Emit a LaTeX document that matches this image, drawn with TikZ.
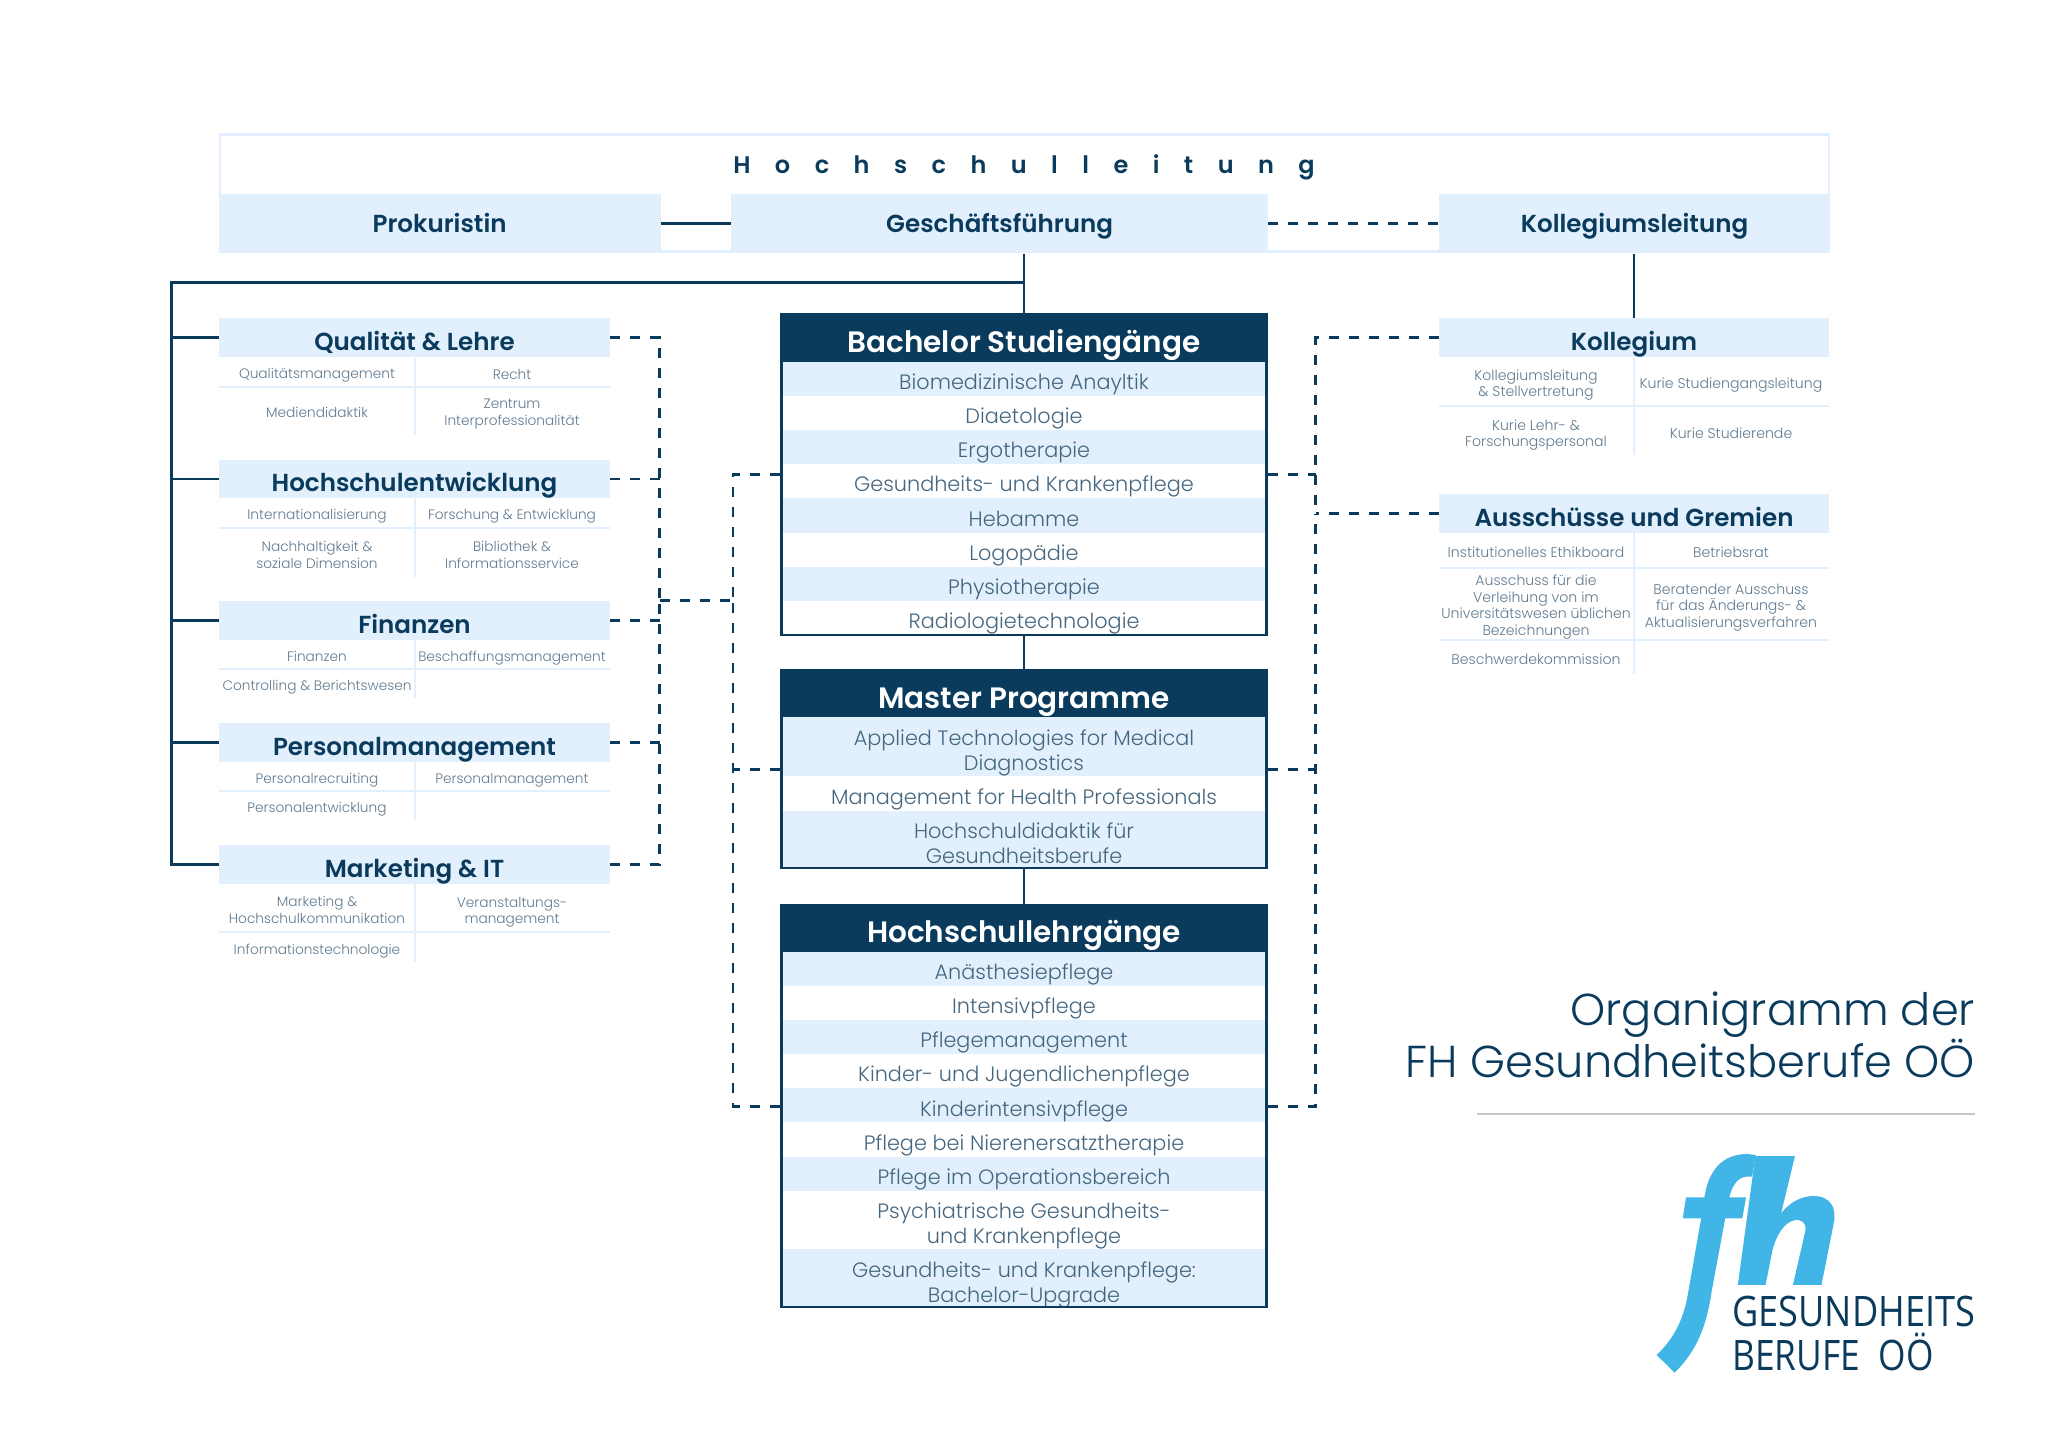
\documentclass[tikz,border=0pt]{standalone}
\usepackage{fontspec}
\setmainfont{Poppins Light}
\newfontfamily\headfont{Poppins SemiBold}
\newfontfamily\logofont{Open Sans}
\usetikzlibrary{calc}
\definecolor{navy}{HTML}{0A3B5C}
\definecolor{paleblue}{HTML}{E1F0FC}
\definecolor{rowtext}{HTML}{45667F}
\definecolor{celltext}{HTML}{5F7A8F}
\definecolor{logoblue}{HTML}{41B5E6}
\tikzset{
  topbox/.style={fill=paleblue,text=navy,inner sep=0pt,minimum height=29.5pt,text height=11pt,text depth=2pt,font=\headfont\fontsize{12.3}{14}\selectfont},
  sidehead/.style={fill=paleblue,text=navy,inner sep=0pt,minimum width=195.1pt,minimum height=19.4pt,text height=14.8pt,text depth=2pt,font=\headfont\fontsize{12.3}{14}\selectfont},
  mainhead/.style={fill=navy,text=white,inner sep=0pt,minimum width=243.7pt,minimum height=24pt,text height=16.9pt,text depth=2pt,font=\headfont\fontsize{14.75}{17}\selectfont},
  mainbox/.style={draw=navy,line width=1.3pt,inner sep=0pt,minimum width=242.4pt},
  rowitem/.style={anchor=base,text=rowtext,inner sep=0pt,font=\fontsize{10.4}{12.35}\selectfont},
  rowitemtwo/.style={text=rowtext,inner sep=0pt,align=center,font=\fontsize{10.4}{12.35}\selectfont},
  cell/.style={text=celltext,inner sep=0pt,align=center,font=\fontsize{6.85}{8.25}\selectfont},
  cellwide/.style={cell,font=\fontsize{7.05}{8.25}\selectfont},
  band/.style={fill=paleblue},
  grid/.style={draw=paleblue,line width=1pt},
  conn/.style={draw=navy,line width=1.4pt},
  dashconn/.style={draw=navy,line width=1.4pt,dash pattern=on 5pt off 5pt},
}
\begin{document}
\begin{tikzpicture}[x=.5pt,y=-.5pt]
\useasboundingbox (0,0) rectangle (2048,1448);
% top frame
\draw[paleblue,line width=1.3pt] (220,134.5) rectangle (1829,251.5);
\node[anchor=base,text=navy,inner sep=0pt,font=\headfont\fontsize{12}{14}\selectfont\addfontfeature{LetterSpace=102}] (leitung) at (1024,173.6) {Hochschulleitung};
\node[topbox,minimum width=221pt] (prokuristin) at (439.6,223.6) {Prokuristin};
\node[topbox,minimum width=268.2pt] (geschaeft) at (999.6,223.6) {Geschäftsführung};
\node[topbox,minimum width=195.8pt] (kollegleit) at (1634.5,223.6) {Kollegiumsleitung};
% left column
\node[sidehead] (qualitaet) at (414.5,337.7) {Qualität \& Lehre};
\node[sidehead] (entwicklung) at (414.5,479) {Hochschulentwicklung};
\node[sidehead] (finanzen) at (414.5,620.5) {Finanzen};
\node[sidehead] (personal) at (414.5,742.3) {Personalmanagement};
\node[sidehead] (marketing) at (414.5,864.3) {Marketing \& IT};
\draw[grid] (qualitaet.south) -- (414.5,435) (219.4,386.7) -- (609.6,386.7);
\draw[grid] (entwicklung.south) -- (414.5,576.7) (219.4,527.7) -- (609.6,527.7);
\draw[grid] (finanzen.south) -- (414.5,698.3) (219.4,669.3) -- (609.6,669.3);
\draw[grid] (personal.south) -- (414.5,820) (219.4,791) -- (609.6,791);
\draw[grid] (marketing.south) -- (414.5,961.7) (219.4,932) -- (609.6,932);
\node[cell] (q1) at (317,375.3) {Qualitätsmanagement};
\node[cell] (q2) at (512,374) {Recht};
\node[cell] (q3) at (317,412.7) {Mediendidaktik};
\node[cell] (q4) at (512,414) {Zentrum\\Interprofessionalität};
\node[cell] (e1) at (317,516.3) {Internationalisierung};
\node[cell] (e2) at (512,516.3) {Forschung \& Entwicklung};
\node[cell] (e3) at (317,554.7) {Nachhaltigkeit \&\\soziale Dimension};
\node[cell] (e4) at (512,554.7) {Bibliothek \&\\Informationsservice};
\node[cell] (f1) at (317,656.7) {Finanzen};
\node[cell] (f2) at (512,658) {Beschaffungsmanagement};
\node[cell] (f3) at (317,687.3) {Controlling \& Berichtswesen};
\node[cell] (p1) at (317,780.3) {Personalrecruiting};
\node[cell] (p2) at (512,780.3) {Personalmanagement};
\node[cell] (p3) at (317,809) {Personalentwicklung};
\node[cell] (m1) at (317,910) {Marketing \&\\Hochschulkommunikation};
\node[cell] (m2) at (512,912) {Veranstaltungs-\\management};
\node[cell] (m3) at (317,951) {Informationstechnologie};
% right column
\node[sidehead] (kollegium) at (1634,337.7) {Kollegium};
\node[sidehead] (ausschuss) at (1634,513.6) {Ausschüsse und Gremien};
\draw[grid] (kollegium.south) -- (1634,455) (1438.7,406.3) -- (1829,406.3);
\draw[grid] (ausschuss.south) -- (1634,674.4) (1438.7,568) -- (1829,568) (1438.7,640.4) -- (1829,640.4);
\node[cellwide] (k1) at (1536,385.3) {Kollegiumsleitung\\\& Stellvertretung};
\node[cellwide] (k2) at (1731,385.3) {Kurie Studiengangsleitung};
\node[cellwide] (k3) at (1536,435) {Kurie Lehr- \&\\Forschungspersonal};
\node[cellwide] (k4) at (1731,433) {Kurie Studierende};
\node[cellwide] (a1) at (1536,552) {Institutionelles Ethikboard};
\node[cellwide] (a2) at (1731,552) {Betriebsrat};
\node[cellwide] (a3) at (1536,607) {Ausschuss für die\\Verleihung von im\\Universitätswesen üblichen\\Bezeichnungen};
\node[cellwide] (a4) at (1731,607.3) {Beratender Ausschuss\\für das Änderungs- \&\\Aktualisierungsverfahren};
\node[cellwide] (a5) at (1536,659.6) {Beschwerdekommission};
% bachelor
\foreach \top in {362,430.2,498.4,566.6}
  \fill[band] (781,\top) rectangle (1267,\top+34.1);
\node[mainhead] (bachelorhead) at (1024,337.5) {Bachelor Studiengänge};
\node[rowitem] (b1) at (1024,389.6) {Biomedizinische Anayltik};
\node[rowitem] (b2) at (1024,423.7) {Diaetologie};
\node[rowitem] (b3) at (1024,457.8) {Ergotherapie};
\node[rowitem] (b4) at (1024,491.9) {Gesundheits- und Krankenpflege};
\node[rowitem] (b5) at (1024,526) {Hebamme};
\node[rowitem] (b6) at (1024,560.1) {Logopädie};
\node[rowitem] (b7) at (1024,594.2) {Physiotherapie};
\node[rowitem] (b8) at (1024,628.3) {Radiologietechnologie};
\node[mainbox,minimum height=160.4pt] (bachelor) at (1024,474.7) {};
% master
\fill[band] (781,717) rectangle (1267,776.2);
\fill[band] (781,810.5) rectangle (1267,868);
\node[mainhead] (masterhead) at (1024,693.3) {Master Programme};
\node[rowitemtwo] (m1a) at (1024,753) {Applied Technologies for Medical\\Diagnostics};
\node[rowitem] (m2a) at (1024,804) {Management for Health Professionals};
\node[rowitemtwo] (m3a) at (1024,843.5) {Hochschuldidaktik für\\Gesundheitsberufe};
\node[mainbox,minimum height=98.6pt] (master) at (1024,769.5) {};
% lehrgaenge
\foreach \top in {951.4,1020,1088,1156.5}
  \fill[band] (781,\top) rectangle (1267,\top+34.2);
\fill[band] (781,1248.9) rectangle (1267,1307);
\node[mainhead] (lehrhead) at (1024,927.5) {Hochschullehrgänge};
\node[rowitem] (l1) at (1024,979.6) {Anästhesiepflege};
\node[rowitem] (l2) at (1024,1013.7) {Intensivpflege};
\node[rowitem] (l3) at (1024,1047.8) {Pflegemanagement};
\node[rowitem] (l4) at (1024,1081.9) {Kinder- und Jugendlichenpflege};
\node[rowitem] (l5) at (1024,1116) {Kinderintensivpflege};
\node[rowitem] (l6) at (1024,1150.1) {Pflege bei Nierenersatztherapie};
\node[rowitem] (l7) at (1024,1184.2) {Pflege im Operationsbereich};
\node[rowitemtwo] (l8) at (1024,1226) {Psychiatrische Gesundheits-\\und Krankenpflege};
\node[rowitemtwo] (l9) at (1024,1285) {Gesundheits- und Krankenpflege:\\Bachelor-Upgrade};
\node[mainbox,minimum height=201pt] (lehr) at (1024,1106.1) {};
% connectors
\coordinate (stemcorner) at (171.6,282.7);
\coordinate (busleft) at (659.8,600.7);
\coordinate (buscentre) at (733,600.7);
\coordinate (busright) at (1315.5,513.6);
\draw[conn] (prokuristin) -- (geschaeft);
\draw[conn] (bachelor.north) -- (bachelor.north |- geschaeft.south);
\draw[conn] (bachelor.south) -- (master.north);
\draw[conn] (master.south) -- (lehr.north);
\draw[conn] (kollegium.north) -- (kollegium.north |- kollegleit.south);
\draw[conn] (bachelor.north |- stemcorner) -- (stemcorner) |- (marketing.west);
\foreach \n in {qualitaet,entwicklung,finanzen,personal}
  \draw[conn] (\n.west) -- (\n.west -| stemcorner);
\draw[dashconn] (geschaeft) -- (kollegleit);
\draw[dashconn] (qualitaet.east) -| (busleft);
\draw[dashconn] (marketing.east) -| (busleft);
\foreach \n in {entwicklung,finanzen,personal}
  \draw[dashconn] (\n.east) -- (\n.east -| busleft);
\draw[dashconn] (busleft) -- (buscentre);
\draw[dashconn] (bachelor.west) -| (buscentre);
\draw[dashconn] (lehr.west) -| (buscentre);
\draw[dashconn] (master.west) -- (master.west -| buscentre);
\draw[dashconn] (kollegium.west) -| (busright);
\draw[dashconn] (ausschuss.west) -- (busright);
\draw[dashconn] (lehr.east) -| (busright);
\draw[dashconn] (bachelor.east) -- (bachelor.east -| busright);
\draw[dashconn] (master.east) -- (master.east -| busright);
% title and logo
\node[anchor=base east,text=navy,inner sep=0pt,align=right,font=\fontsize{22.35}{25.85}\selectfont] (title) at (1975.5,1077) {Organigramm der\\FH Gesundheitsberufe OÖ};
\draw[gray!45,line width=1.2pt] (1477,1114) -- (1975,1114);
\begin{scope}[shift={(1380,960)},xscale=0.408,yscale=0.3333]
\fill[logoblue] (678,1185) .. controls (725,1130) and (745,1070) .. (755,1000) -- (787,775) -- (742,775) -- (750,712) -- (795,712) .. controls (805,630) and (840,582) .. (900,582) -- (921,585) -- (912,650) .. controls (880,645) and (865,670) .. (856,712) -- (897,712) -- (888,775) -- (846,775) -- (812,1000) .. controls (800,1100) and (775,1175) .. (722,1238) -- cycle;
\fill[logoblue] (920,588) -- (1017,588) -- (983,760) .. controls (1005,725) and (1035,708) .. (1062,708) .. controls (1105,708) and (1120,745) .. (1112,790) -- (1082,975) -- (1012,975) -- (1042,815) .. controls (1047,785) and (1030,778) .. (1018,780) .. controls (990,785) and (970,830) .. (962,870) -- (945,975) -- (877,975) -- cycle;
\end{scope}
\node[anchor=base west,text=navy,inner sep=0pt,font=\logofont\fontsize{21}{24}\selectfont] (logoa) at (1732,1326) {\scalebox{.86}[1]{GESUNDHEITS}};
\node[anchor=base west,text=navy,inner sep=0pt,font=\logofont\fontsize{21}{24}\selectfont] (logob) at (1732,1370.7) {\scalebox{.84}[1]{BERUFE\ \ OÖ}};
\end{tikzpicture}
\end{document}
